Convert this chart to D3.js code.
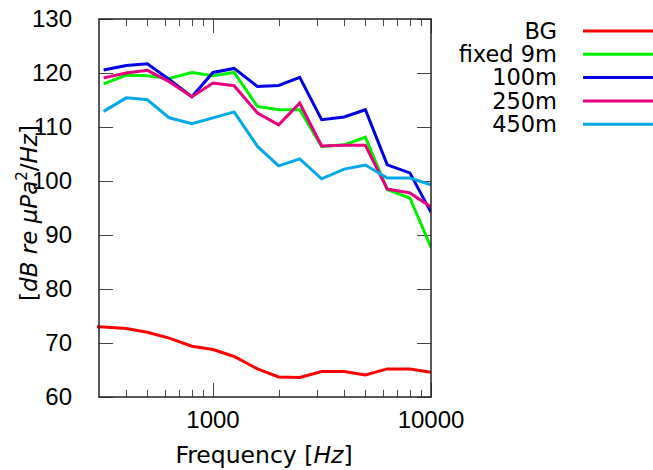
<!DOCTYPE html>
<html>
<head>
<meta charset="utf-8">
<script src="https://cdn.jsdelivr.net/npm/d3@7.9.0/dist/d3.min.js"></script>
<style>
  body { margin: 0; background: #fff; }
  svg text { font-family: "Liberation Sans", "DejaVu Sans", sans-serif; fill: #000; }
  svg text.words { font-family: "DejaVu Sans", sans-serif; }
</style>
</head>
<body>
<svg id="chart" width="653" height="470"></svg>
<script>
// third-octave band centres (Hz)
const freqs = [315, 400, 500, 630, 800, 1000, 1250, 1600, 2000, 2500, 3150, 4000, 5000, 6300, 8000, 10000];
// background starts one band lower, clipped at the frame
const bgFreqs = [250].concat(freqs);

const bg      = [73.2, 72.95, 72.7, 72.0, 70.9, 69.4, 68.8, 67.5, 65.2, 63.7, 63.6, 64.7, 64.7, 64.1, 65.2, 65.2, 64.6];
const fixed9m = [118.0, 119.6, 119.5, 119.0, 120.1, 119.5, 120.1, 113.8, 113.2, 113.2, 106.4, 106.7, 108.1, 98.4, 96.85, 87.7];
const m100    = [120.55, 121.4, 121.7, 118.8, 115.6, 120.1, 120.85, 117.5, 117.7, 119.2, 111.35, 111.85, 113.2, 103.0, 101.5, 94.2];
const m250    = [119.1, 120.0, 120.5, 118.4, 115.6, 118.15, 117.65, 112.6, 110.4, 114.45, 106.5, 106.6, 106.6, 98.5, 97.8, 95.2];
const m450    = [112.9, 115.4, 115.05, 111.7, 110.6, 111.7, 112.8, 106.4, 102.8, 104.1, 100.4, 102.2, 102.95, 100.55, 100.55, 99.3];

const seriesNames = ["BG", "fixed 9m", "100m", "250m", "450m"];
const seriesColors = ["#ff0000", "#00ee00", "#0000e0", "#e6007e", "#00a8e8"];

const yTicks = [60, 70, 80, 90, 100, 110, 120, 130];
const xMajor = [1000, 10000];
const xMinor = [400, 500, 600, 700, 800, 900, 2000, 3000, 4000, 5000, 6000, 7000, 8000, 9000];

const series = [
  { name: seriesNames[0], color: seriesColors[0], pts: bgFreqs.map((f, i) => [f, bg[i]]) },
  { name: seriesNames[1], color: seriesColors[1], pts: freqs.map((f, i) => [f, fixed9m[i]]) },
  { name: seriesNames[2], color: seriesColors[2], pts: freqs.map((f, i) => [f, m100[i]]) },
  { name: seriesNames[3], color: seriesColors[3], pts: freqs.map((f, i) => [f, m250[i]]) },
  { name: seriesNames[4], color: seriesColors[4], pts: freqs.map((f, i) => [f, m450[i]]) },
];

const L = 99, R = 431, T = 19, B = 397;
const svg = d3.select('#chart');

let x = d3.scaleLog().domain([300, 10000]).range([L, R]);
let y = d3.scaleLinear().domain([60, 130]).range([B, T]);

svg.append('rect').attr('width', 653).attr('height', 470).attr('fill', '#fff');

svg.append('clipPath').attr('id', 'clip')
  .append('rect').attr('x', L - 2).attr('y', T).attr('width', R - L + 2).attr('height', B - T);

// ticks (inward, both sides)
let tickG = svg.append('g').attr('stroke', '#444').attr('stroke-width', 1);
yTicks.forEach((v) => {
  let yy = Math.round(y(v)) + 0.5;
  tickG.append('line').attr('x1', L).attr('x2', L + 14).attr('y1', yy).attr('y2', yy);
  tickG.append('line').attr('x1', R - 14).attr('x2', R).attr('y1', yy).attr('y2', yy);
});
xMajor.concat(xMinor).forEach((v) => {
  let len = xMajor.includes(v) ? 14 : 7;
  let xx = Math.round(x(v)) + 0.5;
  tickG.append('line').attr('x1', xx).attr('x2', xx).attr('y1', B).attr('y2', B - len);
  tickG.append('line').attr('x1', xx).attr('x2', xx).attr('y1', T).attr('y2', T + len);
});

// data lines
let line = d3.line().x((d) => x(d[0])).y((d) => y(d[1]));
let linesG = svg.append('g').attr('clip-path', 'url(#clip)');
series.forEach((s) => {
  linesG.append('path')
    .attr('d', line(s.pts))
    .attr('fill', 'none')
    .attr('stroke', s.color)
    .attr('stroke-width', 3)
    .attr('stroke-linejoin', 'miter');
});

// frame
svg.append('rect')
  .attr('x', L).attr('y', T).attr('width', R - L).attr('height', B - T)
  .attr('fill', 'none').attr('stroke', '#222').attr('stroke-width', 1.5);

// tick labels
const fs = 24;
yTicks.forEach((v) => {
  svg.append('text')
    .attr('x', 72).attr('y', y(v))
    .attr('dy', '0.35em')
    .attr('text-anchor', 'end')
    .attr('font-size', fs)
    .text(v);
});
xMajor.forEach((v) => {
  svg.append('text')
    .attr('x', x(v)).attr('y', 428)
    .attr('text-anchor', 'middle')
    .attr('font-size', fs)
    .text(v);
});

// axis titles
let xt = svg.append('text')
  .attr('class', 'words')
  .attr('x', 264).attr('y', 463)
  .attr('text-anchor', 'middle')
  .attr('font-size', 23.5);
xt.append('tspan').text('Frequency [');
xt.append('tspan').attr('font-style', 'italic').text('Hz');
xt.append('tspan').text(']');

let yt = svg.append('text')
  .attr('class', 'words')
  .attr('transform', `translate(37,${(T + B) / 2 + 5}) rotate(-90)`)
  .attr('text-anchor', 'middle')
  .attr('font-size', 23);
yt.append('tspan').text('[');
yt.append('tspan').attr('font-style', 'italic').text('dB re \u03bcPa');
yt.append('tspan').attr('font-size', 15).attr('dy', -10).text('2');
yt.append('tspan').attr('dy', 10).text('/');
yt.append('tspan').attr('font-style', 'italic').text('Hz');
yt.append('tspan').text(']');

// legend
series.forEach((s, i) => {
  let ly = 31 + i * 23.3;
  svg.append('text')
    .attr('class', 'words')
    .attr('x', 557).attr('y', ly)
    .attr('dy', '0.35em')
    .attr('text-anchor', 'end')
    .attr('font-size', 22.5)
    .text(s.name);
  svg.append('line')
    .attr('x1', 583).attr('x2', 653)
    .attr('y1', ly).attr('y2', ly)
    .attr('stroke', s.color).attr('stroke-width', 3);
});
</script>
</body>
</html>
